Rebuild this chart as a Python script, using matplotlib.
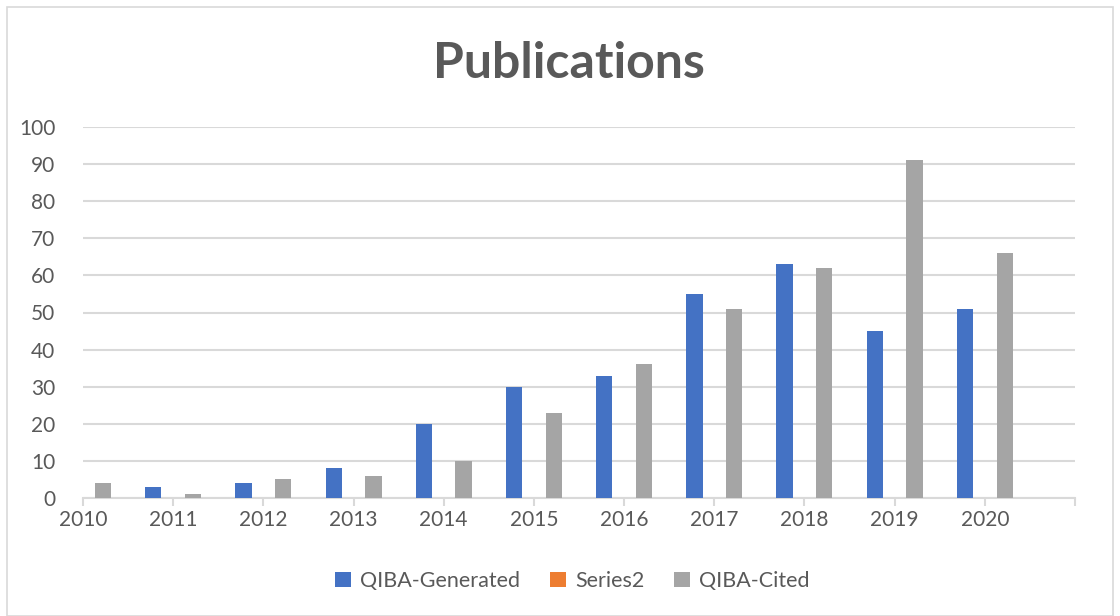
import numpy as np
import matplotlib.pyplot as plt
from matplotlib.patches import Rectangle

years = [2010, 2011, 2012, 2013, 2014, 2015, 2016, 2017, 2018, 2019, 2020]
generated = [0, 3, 4, 8, 20, 30, 33, 55, 63, 45, 51]
series2 = [0, 0, 0, 0, 0, 0, 0, 0, 0, 0, 0]
cited = [4, 1, 5, 6, 10, 23, 36, 51, 62, 91, 66]

blue = '#4472C4'
orange = '#ED7D31'
gray = '#A5A5A5'
text_color = '#595959'
grid_color = '#D9D9D9'

plt.rcParams['font.family'] = ['Lato', 'DejaVu Sans']

fig = plt.figure(figsize=(11.2, 6.16), dpi=100)
ax = fig.add_axes([83/1120, 1 - 498/616, (1075 - 83)/1120, (498 - 127)/616])

x = np.array(years, dtype=float)
w = 0.18
ax.bar(x - 0.22, generated, w, color=blue, label='QIBA-Generated', zorder=3)
ax.bar(x, series2, w, color=orange, label='Series2', zorder=3)
ax.bar(x + 0.22, cited, w, color=gray, label='QIBA-Cited', zorder=3)

ax.set_xlim(2010, 2021)
ax.set_ylim(0, 100)
ax.set_yticks(range(0, 101, 10))
ax.set_xticks(range(2010, 2022))
ax.set_xticklabels([str(y) for y in years] + [''])
ax.yaxis.grid(True, color=grid_color, linewidth=1.5, zorder=0)
for s in ['top', 'right', 'left']:
    ax.spines[s].set_visible(False)
ax.spines['bottom'].set_color(grid_color)
ax.spines['bottom'].set_linewidth(1.5)
ax.tick_params(axis='y', length=0, pad=20, labelsize=15, labelcolor=text_color)
ax.tick_params(axis='x', length=6, width=1.5, color=grid_color, pad=3,
               labelsize=15, labelcolor=text_color)

fig.text(0.508, 1 - 64/616, 'Publications', ha='center', va='center',
         fontsize=36, fontweight='bold', color=text_color)

fig.legend(loc='center', bbox_to_anchor=(0.511, 1 - 581/616), ncol=3,
           frameon=False, fontsize=15.5, labelcolor=text_color,
           handlelength=0.75, handleheight=0.75, handletextpad=0.4,
           columnspacing=1.4)

fig.patches.append(Rectangle((7/1120, 0), 1 - 14/1120, 1 - 7/616,
                             transform=fig.transFigure, fill=False,
                             edgecolor=grid_color, linewidth=1.2))

fig.savefig('out.png', dpi=100)
